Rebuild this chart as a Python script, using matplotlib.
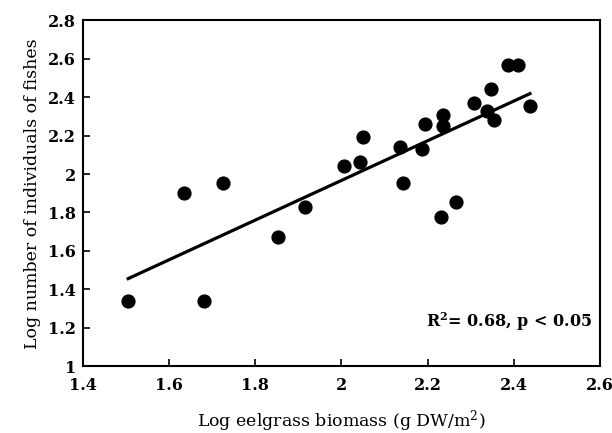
import matplotlib.pyplot as plt
import numpy as np

# Log eelgrass biomass vs log number of fish individuals
biomass = [1.505, 1.634, 1.681, 1.725, 1.853, 1.915, 2.005, 2.043, 2.050,
           2.135, 2.144, 2.188, 2.195, 2.232, 2.237, 2.237, 2.266, 2.308,
           2.339, 2.347, 2.354, 2.386, 2.409, 2.438]
fishes = [1.339, 1.899, 1.339, 1.955, 1.670, 1.826, 2.043, 2.061, 2.194,
          2.142, 1.953, 2.129, 2.260, 1.778, 2.307, 2.252, 1.853, 2.368,
          2.330, 2.443, 2.281, 2.568, 2.568, 2.354]
x_ticks = [1.4, 1.6, 1.8, 2.0, 2.2, 2.4, 2.6]
x_tick_labels = ['1.4', '1.6', '1.8', '2', '2.2', '2.4', '2.6']
y_ticks = [1.0, 1.2, 1.4, 1.6, 1.8, 2.0, 2.2, 2.4, 2.6, 2.8]
y_tick_labels = ['1', '1.2', '1.4', '1.6', '1.8', '2', '2.2', '2.4', '2.6', '2.8']

plt.rcParams['font.family'] = ['DejaVu Serif']
plt.rcParams['mathtext.fontset'] = 'dejavuserif'

fig = plt.figure(figsize=(6.12, 4.33), dpi=100)
ax = fig.add_axes([0.1356, 0.1547, 0.8444, 0.798])

ax.scatter(biomass, fishes, s=85, color='black', zorder=3)

# least squares fit line
slope, intercept = np.polyfit(biomass, fishes, 1)
xs = np.array([min(biomass), max(biomass)])
ax.plot(xs, slope * xs + intercept, color='black', lw=2.3, zorder=2)

ax.set_xlim(1.4, 2.6)
ax.set_ylim(1.0, 2.8)
ax.set_xticks(x_ticks)
ax.set_xticklabels(x_tick_labels, fontweight='bold')
ax.set_yticks(y_ticks)
ax.set_yticklabels(y_tick_labels, fontweight='bold')
ax.tick_params(direction='in', length=5, width=1.2, labelsize=11.5)
ax.tick_params(axis='x', pad=8)
ax.tick_params(axis='y', pad=5)
for sp in ax.spines.values():
    sp.set_linewidth(1.5)

ax.set_xlabel('Log eelgrass biomass (g DW/m$^2$)', fontsize=12.5, labelpad=10)
ax.set_ylabel('Log number of individuals of fishes', fontsize=12.5, labelpad=5)
ax.text(0.985, 0.127, r'R$^\mathbf{2}$= 0.68, p < 0.05', transform=ax.transAxes,
        ha='right', va='center', fontsize=11.5, fontweight='bold')

fig.savefig('out.png', dpi=100)
